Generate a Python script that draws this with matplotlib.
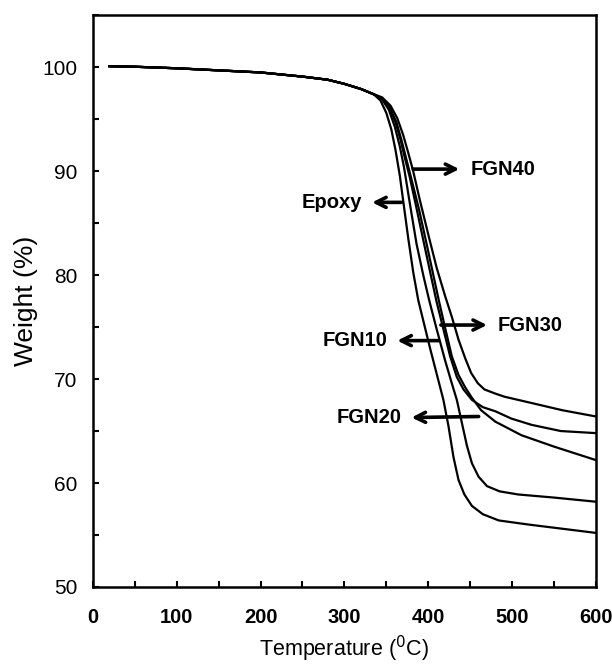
import matplotlib
matplotlib.use('Agg')
import matplotlib.pyplot as plt
from matplotlib.ticker import MultipleLocator

plt.rcParams['font.family'] = ['Liberation Sans', 'DejaVu Sans']

# shared early part of every TGA curve (T in degC, weight in %)
t_start = [20, 50, 100, 150, 200, 250, 280, 300, 320, 335]
w_start = [100.1, 100.05, 99.9, 99.7, 99.5, 99.1, 98.8, 98.4, 97.9, 97.4]

# decomposition part
t_epoxy = [343, 350, 356, 361, 366, 371, 376, 382, 388, 395, 402, 410, 418, 424, 430, 436, 443, 452, 465, 484, 520, 560, 600]
w_epoxy = [96.8, 95.6, 94.0, 92.0, 89.6, 86.6, 83.6, 80.3, 77.6, 75.3, 73.0, 70.5, 68.0, 65.5, 62.5, 60.3, 58.9, 57.8, 57.0, 56.4, 56.0, 55.6, 55.2]

t_fgn10 = [345, 353, 360, 366, 371, 378, 386, 394, 401, 410, 420, 428, 434, 440, 446, 452, 460, 470, 485, 507, 550, 600]
w_fgn10 = [96.9, 95.9, 94.3, 92.4, 90.4, 86.9, 83.0, 80.0, 77.6, 74.8, 71.8, 69.6, 68.0, 65.8, 63.6, 61.9, 60.6, 59.7, 59.2, 58.9, 58.6, 58.2]

t_fgn20 = [345, 354, 362, 368, 374, 380, 389, 398, 406, 413, 421, 428, 436, 444, 452, 463, 480, 511, 550, 600]
w_fgn20 = [97.0, 96.1, 94.7, 93.0, 91.1, 89.2, 86.3, 83.0, 80.0, 77.4, 74.6, 72.2, 70.4, 69.2, 68.2, 67.0, 65.9, 64.6, 63.5, 62.2]

t_fgn30 = [345, 354, 361, 367, 372, 378, 385, 395, 403, 410, 418, 426, 434, 442, 452, 465, 480, 499, 523, 558, 600]
w_fgn30 = [97.0, 96.1, 94.7, 93.0, 91.3, 89.4, 86.8, 83.0, 80.0, 77.4, 74.8, 72.2, 70.2, 69.0, 68.0, 67.3, 66.9, 66.2, 65.6, 65.0, 64.8]

t_fgn40 = [345, 355, 363, 370, 376, 382, 390, 400, 410, 420, 428, 436, 444, 451, 459, 467, 480, 491, 523, 560, 600]
w_fgn40 = [97.1, 96.3, 95.1, 93.5, 91.8, 90.0, 87.2, 83.9, 80.7, 78.0, 76.0, 73.8, 72.0, 70.6, 69.6, 69.0, 68.6, 68.3, 67.7, 67.0, 66.4]

curves = [(t_epoxy, w_epoxy), (t_fgn10, w_fgn10), (t_fgn20, w_fgn20),
          (t_fgn30, w_fgn30), (t_fgn40, w_fgn40)]

# label, arrow tail (on curve), arrow head
labels = ['FGN40', 'Epoxy', 'FGN30', 'FGN10', 'FGN20']
tails = [(382, 90.2), (368, 87.0), (415, 75.2), (412, 73.7), (460, 66.4)]
heads = [(437, 90.2), (333, 87.0), (470, 75.2), (363, 73.7), (380, 66.3)]

fig = plt.figure(figsize=(6.12, 6.64), dpi=100)
ax = fig.add_axes([0.1515, 0.116, 0.8225, 0.861])

for t, w in curves:
    ax.plot(t_start + t, w_start + w, color='black', lw=1.6)

for lab, tail, head in zip(labels, tails, heads):
    ax.annotate('', xy=head, xytext=tail,
                arrowprops=dict(arrowstyle='->', lw=2.6, color='black',
                                mutation_scale=18, shrinkA=0, shrinkB=0))
    if head[0] > tail[0]:
        ax.text(head[0] + 13, head[1], lab, ha='left', va='center',
                fontsize=14.5, fontweight='bold')
    else:
        ax.text(head[0] - 12, head[1], lab, ha='right', va='center',
                fontsize=14.5, fontweight='bold')

ax.set_xlim(0, 600)
ax.set_ylim(50, 105)
ax.xaxis.set_major_locator(MultipleLocator(100))
ax.xaxis.set_minor_locator(MultipleLocator(50))
ax.yaxis.set_major_locator(MultipleLocator(10))
ax.yaxis.set_minor_locator(MultipleLocator(5))
ax.tick_params(which='both', direction='in', length=4, width=1.5)
ax.tick_params(axis='x', pad=15, labelsize=14.5)
ax.tick_params(axis='y', pad=11, labelsize=15)
for lbl in ax.get_xticklabels():
    lbl.set_fontweight('bold')
for s in ax.spines.values():
    s.set_linewidth(1.8)

ax.set_xlabel('Temperature ($^{0}$C)', fontsize=15.5, labelpad=5)
ax.set_ylabel('Weight (%)', fontsize=19, labelpad=3)

fig.savefig('out.png', dpi=100)
